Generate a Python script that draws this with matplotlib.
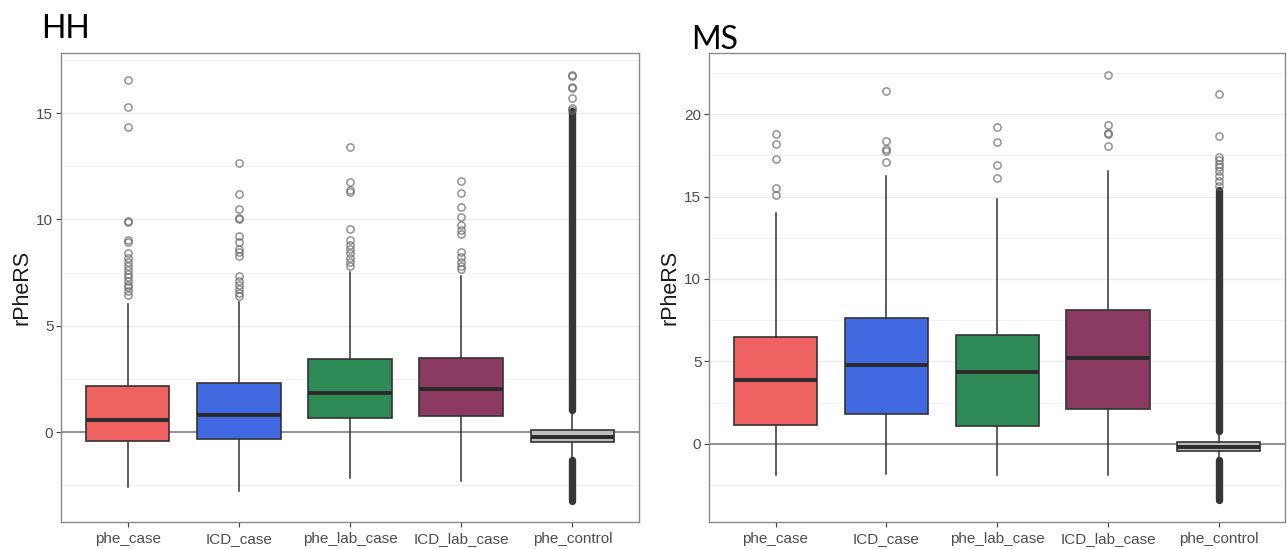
import matplotlib
matplotlib.use("Agg")
import matplotlib.pyplot as plt
from matplotlib.ticker import MultipleLocator

plt.rcParams['font.family'] = ['Liberation Sans', 'DejaVu Sans']

groups = ['phe_case', 'ICD_case', 'phe_lab_case', 'ICD_lab_case', 'phe_control']
box_colors = ['#EE6262', '#4169E1', '#2E8B57', '#8B3A62', '#BEBEBE']

# HH panel: box statistics
hh_q1 = [-0.40, -0.35, 0.67, 0.75, -0.48]
hh_med = [0.59, 0.80, 1.84, 2.02, -0.22]
hh_q3 = [2.15, 2.29, 3.44, 3.50, 0.09]
hh_wlo = [-2.57, -2.79, -2.16, -2.29, -1.20]
hh_whi = [6.02, 6.10, 7.54, 7.36, 0.95]
hh_fliers = [
    [16.56, 15.29, 14.33, 9.93, 9.88, 9.02, 8.96, 8.40, 8.20, 8.00, 7.80,
     7.60, 7.45, 7.30, 7.10, 6.90, 6.80, 6.62, 6.45],
    [12.67, 11.18, 10.49, 10.06, 10.00, 9.23, 8.92, 8.62, 8.45, 8.30,
     7.36, 7.12, 6.92, 6.72, 6.52, 6.38],
    [13.39, 11.74, 11.38, 11.30, 9.53, 9.02, 8.80, 8.60, 8.40, 8.20,
     8.00, 7.80],
    [11.82, 11.26, 10.58, 10.11, 9.72, 9.50, 9.30, 8.46, 8.22, 8.02,
     7.82, 7.68],
    [16.80, 16.75, 16.25, 16.20, 15.72, 15.25, 15.15],
]
# phe_control has thousands of overlapping outliers: drawn as solid runs
hh_dense_lo = [1.06, -3.22]
hh_dense_hi = [15.08, -1.33]

# MS panel
ms_q1 = [1.13, 1.83, 1.10, 2.10, -0.42]
ms_med = [3.88, 4.80, 4.35, 5.22, -0.17]
ms_q3 = [6.49, 7.66, 6.60, 8.15, 0.10]
ms_wlo = [-1.91, -1.84, -1.91, -1.86, -0.85]
ms_whi = [14.02, 16.23, 14.85, 16.54, 0.65]
ms_fliers = [
    [18.78, 18.16, 17.29, 15.50, 15.10],
    [21.42, 18.35, 17.88, 17.78, 17.09],
    [19.19, 18.30, 16.92, 16.14],
    [22.37, 19.36, 18.86, 18.76, 18.09],
    [21.21, 18.64, 17.40, 17.20, 17.00, 16.80, 16.55, 16.25, 15.95, 15.65],
]
ms_dense_lo = [0.76, -3.38]
ms_dense_hi = [15.40, -0.98]


def draw_panel(ax, q1, med, q3, wlo, whi, fliers, dense_lo, dense_hi,
               ylim, title, title_x, title_y):
    stats = []
    for i in range(len(groups)):
        stats.append({'q1': q1[i], 'med': med[i], 'q3': q3[i],
                      'whislo': wlo[i], 'whishi': whi[i],
                      'fliers': fliers[i], 'label': groups[i]})
    pos = list(range(1, len(groups) + 1))

    ax.axhline(0, color='#8c8c8c', lw=1.3, zorder=1)

    bp = ax.bxp(stats, positions=pos, widths=0.75, patch_artist=True,
                showcaps=False, zorder=3,
                boxprops=dict(edgecolor='#333333', linewidth=1.2),
                whiskerprops=dict(color='#333333', linewidth=1.1),
                medianprops=dict(color='#2a2a2a', linewidth=2.8),
                flierprops=dict(marker='o', markersize=5.2,
                                markerfacecolor='none',
                                markeredgecolor='#666666',
                                markeredgewidth=1.1, alpha=0.7))
    for patch, c in zip(bp['boxes'], box_colors):
        patch.set_facecolor(c)

    ax.vlines([pos[-1]] * len(dense_lo), dense_lo, dense_hi,
              colors='#363636', linewidth=5.3, capstyle='round', zorder=2)

    ax.set_xlim(0.4, 5.6)
    ax.set_ylim(*ylim)
    ax.yaxis.set_major_locator(MultipleLocator(5))
    ax.yaxis.set_minor_locator(MultipleLocator(2.5))
    ax.grid(which='major', axis='y', color='#ebebeb', linewidth=1.0, zorder=0)
    ax.grid(which='minor', axis='y', color='#f2f2f2', linewidth=0.7, zorder=0)
    ax.set_axisbelow(True)
    ax.tick_params(axis='y', which='minor', length=0)
    ax.tick_params(which='major', length=3.5, color='#444444',
                   labelcolor='#4d4d4d', labelsize=11)
    ax.tick_params(axis='y', pad=2)
    for s in ax.spines.values():
        s.set_color('#8a8a8a')
        s.set_linewidth(1.0)
    ax.set_ylabel('rPheRS', fontsize=15.5, color='#1a1a1a', labelpad=3)
    ax.figure.text(title_x, title_y, title, fontsize=23, family='Lato',
                   color='black', va='top', ha='left')


fig = plt.figure(figsize=(12.87, 5.49), dpi=100)
ax1 = fig.add_axes([0.0474, 0.0492, 0.4491, 0.8543])
ax2 = fig.add_axes([0.5509, 0.0492, 0.4478, 0.8543])

draw_panel(ax1, hh_q1, hh_med, hh_q3, hh_wlo, hh_whi, hh_fliers,
           hh_dense_lo, hh_dense_hi, (-4.23, 17.83), 'HH', 0.032, 0.974)
draw_panel(ax2, ms_q1, ms_med, ms_q3, ms_wlo, ms_whi, ms_fliers,
           ms_dense_lo, ms_dense_hi, (-4.73, 23.7), 'MS', 0.537, 0.955)

fig.savefig('out.png', dpi=100)
